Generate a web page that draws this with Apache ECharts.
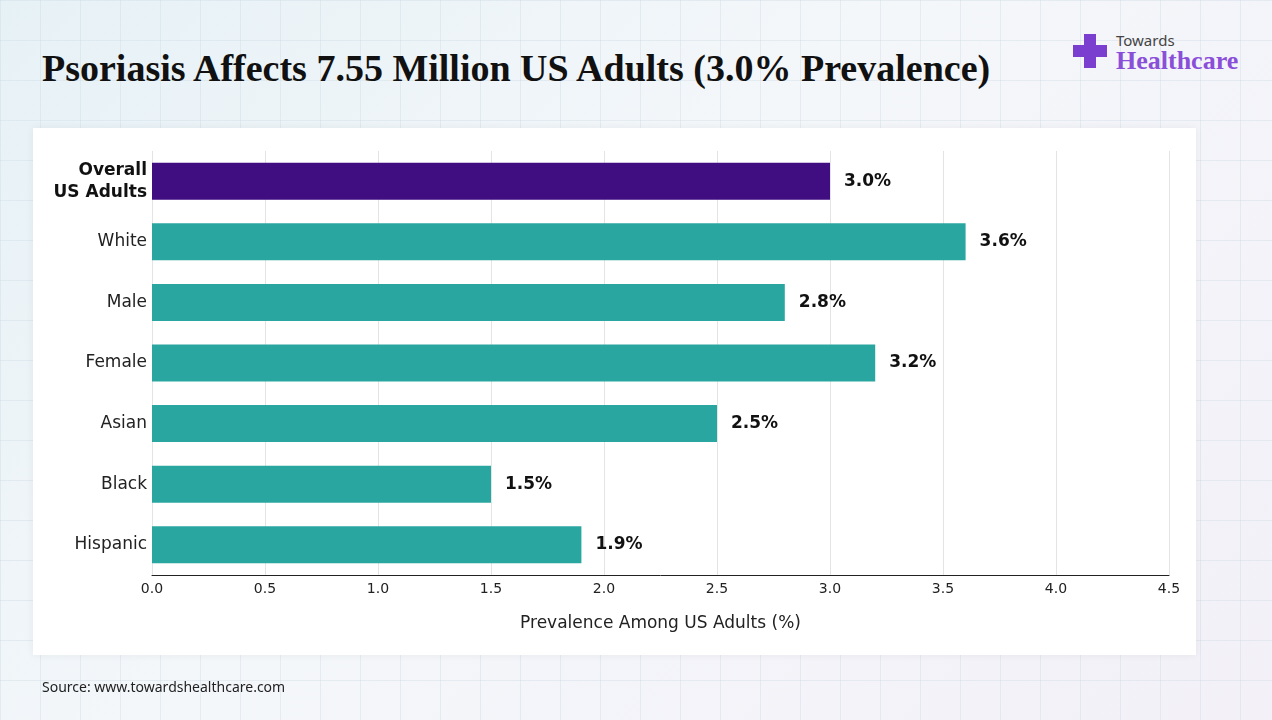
<!DOCTYPE html>
<html><head><meta charset="utf-8">
<script src="https://cdn.jsdelivr.net/npm/echarts@6/dist/echarts.min.js"></script>
<style>
body{margin:0;width:1272px;height:720px;overflow:hidden;font-family:"DejaVu Sans",sans-serif;
background:linear-gradient(135deg,#e6f1f6 0%,#f4f7fa 45%,#f3f0f8 100%);position:relative}
.grid{position:absolute;inset:0;background-image:linear-gradient(rgba(200,215,225,.35) 1px,transparent 1px),linear-gradient(90deg,rgba(200,215,225,.35) 1px,transparent 1px);background-size:40px 40px}
#title{position:absolute;left:42px;top:46px;font-family:"Liberation Serif",serif;font-weight:bold;font-size:38px;color:#111;white-space:nowrap}
#card{position:absolute;left:33px;top:128px;width:1163px;height:527px;background:#fff;box-shadow:0 0 8px rgba(0,0,0,.06)}
#chart{position:absolute;left:0;top:0;width:1272px;height:720px}
#src{position:absolute;left:42px;top:677px;font-size:14px;color:#222;font-family:"Noto Sans",sans-serif}
#logo{position:absolute;left:1073px;top:30px}
</style></head><body>
<div class="grid"></div>
<div id="title">Psoriasis Affects 7.55 Million US Adults (3.0% Prevalence)</div>
<div id="logo"><div style="position:absolute;left:0;top:4px;width:34px;height:34px;">
<div style="position:absolute;left:11px;top:0;width:12px;height:34px;background:#7b3fd0"></div>
<div style="position:absolute;left:0;top:11px;width:34px;height:12px;background:#7b3fd0"></div></div>
<div style="position:absolute;left:43px;top:0;font-size:15px;color:#444;font-family:'Noto Sans'">Towards</div>
<div style="position:absolute;left:43px;top:16px;font-size:26px;font-weight:bold;color:#8a4fd8;font-family:'Liberation Serif',serif;white-space:nowrap">Healthcare</div></div>
<div id="card"></div>
<div id="chart"></div>
<div id="src">Source: www.towardshealthcare.com</div>
<script>
const categories=["Overall\nUS Adults","White","Male","Female","Asian","Black","Hispanic"];
const values=[3.0,3.6,2.8,3.2,2.5,1.5,1.9];
const colors=["#410e82","#2aa6a1","#2aa6a1","#2aa6a1","#2aa6a1","#2aa6a1","#2aa6a1"];
const F='DejaVu Sans';
const c=echarts.init(document.getElementById('chart'));
c.setOption({
 textStyle:{fontFamily:F},
 grid:{left:152,right:103,top:151,bottom:145,containLabel:false},
 xAxis:{type:'value',min:0,max:4.5,interval:0.5,
  axisLabel:{formatter:v=>v.toFixed(1),color:'#222',fontSize:14,margin:7,fontFamily:F},
  axisLine:{show:true,lineStyle:{color:'#222'}},axisTick:{show:false},
  splitLine:{lineStyle:{color:'#e4e4e4'}},
  name:'Prevalence Among US Adults (%)',nameLocation:'middle',nameGap:40,nameTextStyle:{fontSize:17,color:'#222',fontFamily:F}},
 yAxis:{type:'category',inverse:true,data:categories,axisLine:{show:false},axisTick:{show:false},
  axisLabel:{fontSize:17,color:'#222',margin:5,lineHeight:22,fontFamily:F,
   formatter:(v,i)=>i===0?'{b|'+v.replace('\n','}\n{b|')+'}':v,
   rich:{b:{fontWeight:'bold',fontSize:17,color:'#111',align:'right',lineHeight:22,fontFamily:F}}}},
 series:[{type:'bar',barWidth:37,
  data:values.map((v,i)=>({value:v,itemStyle:{color:colors[i]}})),
  label:{show:true,position:'right',distance:14,fontWeight:'bold',fontSize:17,color:'#111',fontFamily:F,formatter:p=>p.value.toFixed(1)+'%'}}]
});
</script></body></html>
